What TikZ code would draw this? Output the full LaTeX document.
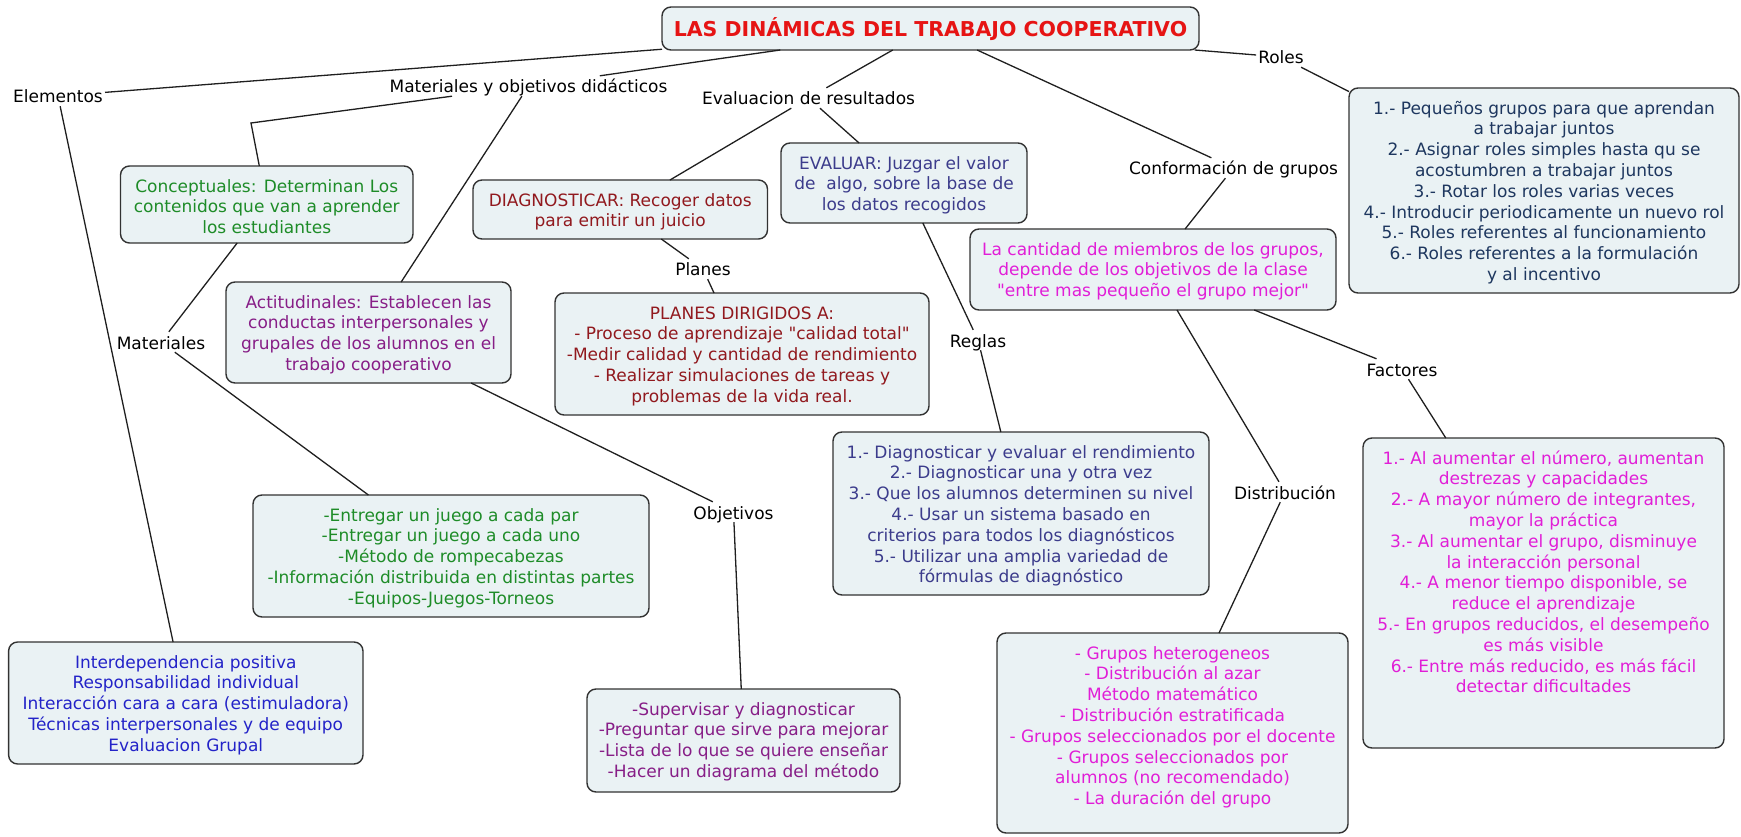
\documentclass[tikz,border=0pt]{standalone}
\usepackage{fontspec}
\setmainfont{DejaVu Sans}[Ligatures=TeXOff]
\definecolor{boxfill}{RGB}{234,242,244}
\definecolor{boxline}{RGB}{50,50,50}
\definecolor{titlered}{RGB}{230,20,20}
\definecolor{cgreen}{RGB}{30,140,40}
\definecolor{cdred}{RGB}{145,25,30}
\definecolor{cslate}{RGB}{60,60,140}
\definecolor{cmag}{RGB}{225,30,215}
\definecolor{cnavy}{RGB}{30,55,95}
\definecolor{cpurp}{RGB}{135,30,135}
\definecolor{cblue}{RGB}{35,35,200}
\newcommand{\bxt}[4]{\parbox[c][#2pt][t]{#1pt}{\vspace*{11.5pt}\noindent\makebox[#1pt][c]{\color{#3}\begin{tabular}[t]{@{}c@{}}#4\end{tabular}}}}
\tikzset{
  box/.style={draw=boxline, fill=boxfill, rounded corners=9pt, line width=1.4pt, inner sep=0pt, outer sep=0pt, anchor=north west, font=\fontsize{17}{20.8}\selectfont},
  lbl/.style={inner xsep=2pt, inner ysep=0pt, text height=17pt, text depth=3pt, anchor=base, font=\fontsize{17}{20.8}\selectfont, text=black},
  conn/.style={draw=black!88, line width=1.3pt},
}
\begin{document}
\begin{tikzpicture}[x=1pt,y=-1pt]
\useasboundingbox (0,0) rectangle (1741,837);
% boxes
\node[box, anchor=center, minimum width=537pt, minimum height=43pt, text=titlered, font=\bfseries\fontsize{20.5}{24}\selectfont, text height=17pt, text depth=0pt] (title) at (930.5,28.5) {LAS DINÁMICAS DEL TRABAJO COOPERATIVO};
\node[box] (concept) at (120.5,166) {\bxt{292.5}{77}{cgreen}{Conceptuales: Determinan Los\\contenidos que van a aprender\\los estudiantes}};
\node[box] (diag) at (473,180) {\bxt{294.5}{59}{cdred}{DIAGNOSTICAR: Recoger datos\\para emitir un juicio}};
\node[box] (evaluar) at (781,143) {\bxt{246}{80}{cslate}{EVALUAR: Juzgar el valor\\de\ \ algo, sobre la base de\\los datos recogidos}};
\node[box] (cantidad) at (970,229) {\bxt{366}{81}{cmag}{La cantidad de miembros de los grupos,\\depende de los objetivos de la clase\\"entre mas pequeño el grupo mejor"}};
\node[box] (rolesbox) at (1349,88) {\bxt{390}{205}{cnavy}{1.- Pequeños grupos para que aprendan\\a trabajar juntos\\2.- Asignar roles simples hasta qu se\\acostumbren a trabajar juntos\\3.- Rotar los roles varias veces\\4.- Introducir periodicamente un nuevo rol\\5.- Roles referentes al funcionamiento\\6.- Roles referentes a la formulación\\y al incentivo}};
\node[box] (actit) at (226,282) {\bxt{285}{101}{cpurp}{Actitudinales: Establecen las\\conductas interpersonales y\\grupales de los alumnos en el\\trabajo cooperativo}};
\node[box] (planesbox) at (555,293) {\bxt{374}{122}{cdred}{PLANES DIRIGIDOS A:\\- Proceso de aprendizaje "calidad total"\\-Medir calidad y cantidad de rendimiento\\- Realizar simulaciones de tareas y\\problemas de la vida real.}};
\node[box] (matbox) at (253,495) {\bxt{396}{122}{cgreen}{-Entregar un juego a cada par\\-Entregar un juego a cada uno\\-Método de rompecabezas\\-Información distribuida en distintas partes\\-Equipos-Juegos-Torneos}};
\node[box] (reglasbox) at (833,432) {\bxt{376}{163}{cslate}{1.- Diagnosticar y evaluar el rendimiento\\2.- Diagnosticar una y otra vez\\3.- Que los alumnos determinen su nivel\\4.- Usar un sistema basado en\\criterios para todos los diagnósticos\\5.- Utilizar una amplia variedad de\\fórmulas de diagnóstico}};
\node[box] (factbox) at (1363,438) {\bxt{361}{310}{cmag}{1.- Al aumentar el número, aumentan\\destrezas y capacidades\\2.- A mayor número de integrantes,\\mayor la práctica\\3.- Al aumentar el grupo, disminuye\\la interacción personal\\4.- A menor tiempo disponible, se\\reduce el aprendizaje\\5.- En grupos reducidos, el desempeño\\es más visible\\6.- Entre más reducido, es más fácil\\detectar dificultades}};
\node[box] (distbox) at (997,633) {\bxt{351}{200}{cmag}{- Grupos heterogeneos\\- Distribución al azar\\Método matemático\\- Distribución estratificada\\- Grupos seleccionados por el docente\\- Grupos seleccionados por\\alumnos (no recomendado)\\- La duración del grupo}};
\node[box] (elembox) at (8.6,642) {\bxt{354.4}{122}{cblue}{Interdependencia positiva\\Responsabilidad individual\\Interacción cara a cara (estimuladora)\\Técnicas interpersonales y de equipo\\Evaluacion Grupal}};
\node[box] (objbox) at (587,689) {\bxt{313}{103}{cpurp}{-Supervisar y diagnosticar\\-Preguntar que sirve para mejorar\\-Lista de lo que se quiere enseñar\\-Hacer un diagrama del método}};
% labels
\node[lbl] (elem) at (58,103) {Elementos};
\node[lbl] (matobj) at (528.5,93) {Materiales y objetivos didácticos};
\node[lbl] (evalr) at (808.5,105) {Evaluacion de resultados};
\node[lbl] (roles) at (1281,64) {Roles};
\node[lbl] (conf) at (1233.5,175) {Conformación de grupos};
\node[lbl] (planes) at (703,276) {Planes};
\node[lbl] (reglas) at (978,347) {Reglas};
\node[lbl] (mater) at (161,349) {Materiales};
\node[lbl] (objet) at (733.5,519) {Objetivos};
\node[lbl] (distr) at (1285,499) {Distribución};
\node[lbl] (factores) at (1402,376) {Factores};
\coordinate (bend) at (251,123);
% connectors
\draw[conn] (elem) -- (title);
\draw[conn] (elem) -- (elembox);
\draw[conn] (matobj) -- (title);
\draw[conn] (matobj) -- (bend) -- (concept);
\draw[conn] (matobj) -- (actit);
\draw[conn] (concept) -- (mater);
\draw[conn] (mater) -- (matbox);
\draw[conn] (actit) -- (objet);
\draw[conn] (objet) -- (objbox);
\draw[conn] (title) -- (evalr);
\draw[conn] (evalr) -- (diag);
\draw[conn] (evalr) -- (evaluar);
\draw[conn] (diag) -- (planes);
\draw[conn] (planes) -- (planesbox);
\draw[conn] (evaluar) -- (reglas);
\draw[conn] (reglas) -- (reglasbox);
\draw[conn] (title) -- (roles);
\draw[conn] (roles) -- (rolesbox);
\draw[conn] (title) -- (conf);
\draw[conn] (conf) -- (cantidad);
\draw[conn] (cantidad) -- (distr);
\draw[conn] (distr) -- (distbox);
\draw[conn] (cantidad) -- (factores);
\draw[conn] (factores) -- (factbox);
\end{tikzpicture}
\end{document}
